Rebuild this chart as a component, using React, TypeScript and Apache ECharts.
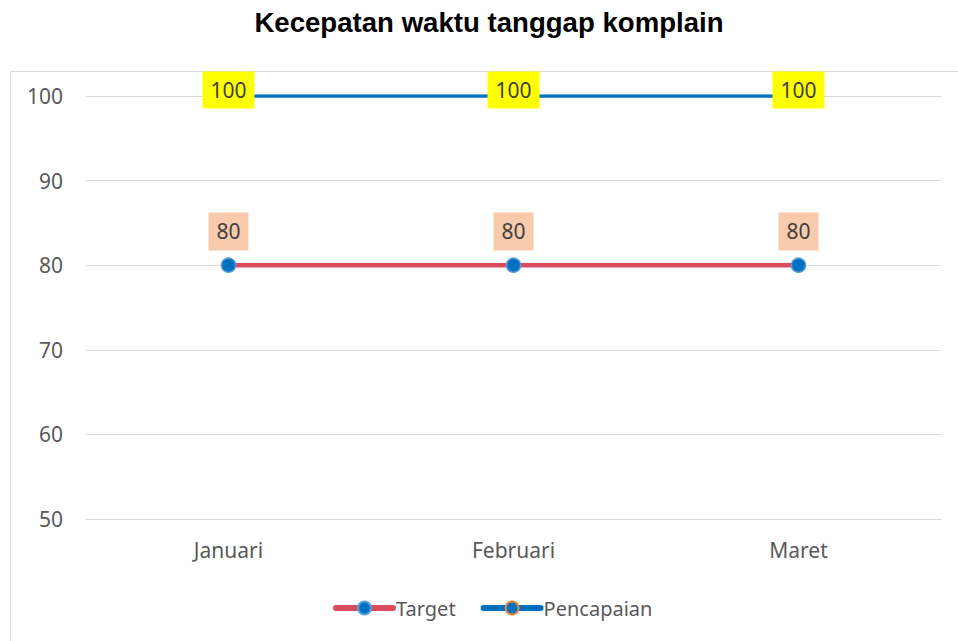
import React, { useEffect, useRef } from "react";
import * as echarts from "echarts";

const categories = ["Januari", "Februari", "Maret"];
const targetValues = [80, 80, 80];
const pencapaianValues = [100, 100, 100];
const seriesNames = ["Target", "Pencapaian"];
const titleText = "Kecepatan waktu tanggap komplain";

const FONT = "'Noto Sans', 'Open Sans', sans-serif";

export default function App() {
  const ref = useRef<HTMLDivElement>(null);
  useEffect(() => {
    if (!ref.current) return;
    const chart = echarts.init(ref.current, undefined, { renderer: "svg" });
    chart.setOption({
      animation: false,
      backgroundColor: "#ffffff",
      graphic: [
        {
          type: "rect",
          silent: true,
          z: -10,
          shape: { x: 10.5, y: 71.5, width: 1000, height: 1000 },
          style: { fill: "none", stroke: "#D9D9D9", lineWidth: 1 },
        },
        {
          type: "text",
          x: 489,
          y: 22,
          style: {
            text: titleText,
            fontFamily: "'Liberation Sans', Arial, sans-serif",
            fontWeight: "bold",
            fontSize: 27.6,
            fill: "#000000",
            textAlign: "center",
            textVerticalAlign: "middle",
          },
        },
      ],
      grid: { left: 86, right: 17, top: 96, bottom: 122, containLabel: false },
      legend: {
        data: [
          { name: seriesNames[0], lineStyle: { width: 6, cap: "round" } },
          { name: seriesNames[1], lineStyle: { width: 6, cap: "round" } },
        ],
        left: 333,
        top: 598,
        padding: 0,
        itemWidth: 57,
        itemHeight: 16,
        itemGap: 25,
        textStyle: { color: "#595959", fontSize: 20, fontFamily: FONT, padding: [0, 0, 0, -2] },
      },
      xAxis: {
        type: "category",
        data: categories,
        boundaryGap: true,
        axisLine: { show: true, lineStyle: { color: "#D9D9D9", width: 1 } },
        axisTick: { show: false },
        axisLabel: { color: "#595959", fontSize: 21, fontFamily: FONT, margin: 20 },
      },
      yAxis: {
        type: "value",
        min: 50,
        max: 100,
        interval: 10,
        axisLine: { show: false },
        axisTick: { show: false },
        splitLine: { lineStyle: { color: "#D9D9D9", width: 1 } },
        axisLabel: { color: "#595959", fontSize: 21, fontFamily: FONT, margin: 23 },
      },
      series: [
        {
          name: seriesNames[0],
          type: "line",
          data: targetValues,
          symbol: "circle",
          symbolSize: 14,
          lineStyle: { color: "#DC4A5E", width: 4.5 },
          itemStyle: { color: "#0070C0", borderColor: "#5B9BD5", borderWidth: 1.5 },
          label: {
            show: true,
            position: "top",
            distance: 7,
            backgroundColor: "#F8CBAD",
            padding: [8, 8, 9, 8],
            color: "#404040",
            fontSize: 21,
            fontFamily: FONT,
          },
        },
        {
          name: seriesNames[1],
          type: "line",
          data: pencapaianValues,
          symbol: "circle",
          symbolSize: 14,
          lineStyle: { color: "#0070C0", width: 3.5 },
          itemStyle: { color: "#0070C0", borderColor: "#ED7D31", borderWidth: 2 },
          label: {
            show: true,
            position: "inside",
            offset: [0, -6],
            backgroundColor: "#FFFF00",
            padding: [8, 8, 8, 8],
            color: "#404040",
            fontSize: 21,
            fontFamily: FONT,
          },
        },
      ],
    });
    return () => chart.dispose();
  }, []);
  return (
    <div
      ref={ref}
      style={{ position: "absolute", left: 0, top: 0, width: 958, height: 641 }}
    />
  );
}
